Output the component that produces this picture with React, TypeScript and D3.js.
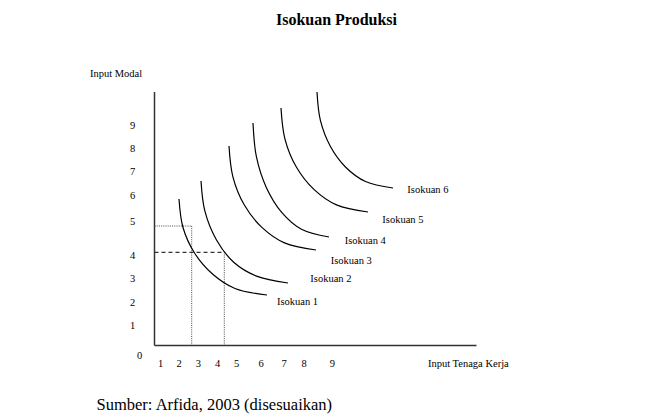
import React from "react";
import * as d3 from "d3";

// Axis / figure units (data space of the diagram)
const X_MAX = 32.2;
const Y_MAX = 25.35;

type Pt = [number, number];

const curveNames = ["Isokuan 1", "Isokuan 2", "Isokuan 3", "Isokuan 4", "Isokuan 5", "Isokuan 6"];

const isokuan1: Pt[] = [[2.45, 14.65], [2.85, 11.8], [4.0, 9.25], [5.8, 7.15], [8.05, 5.7], [11.25, 5.05]];
const isokuan2: Pt[] = [[4.65, 16.45], [5.04, 13.43], [6.2, 10.55], [7.95, 8.3], [10.2, 6.94], [13.35, 6.25]];
const isokuan3: Pt[] = [[7.45, 19.95], [7.84, 16.87], [8.97, 14.07], [10.74, 11.81], [13.0, 10.26], [16.15, 9.55]];
const isokuan4: Pt[] = [[9.85, 22.25], [10.19, 18.88], [11.18, 15.81], [12.72, 13.32], [14.7, 11.63], [17.45, 10.85]];
const isokuan5: Pt[] = [[12.65, 23.75], [13.04, 20.67], [14.17, 17.87], [15.94, 15.61], [18.2, 14.06], [21.35, 13.35]];
const isokuan6: Pt[] = [[16.25, 25.35], [16.59, 22.51], [17.58, 19.93], [19.12, 17.83], [21.1, 16.4], [23.85, 15.75]];
const curves = [isokuan1, isokuan2, isokuan3, isokuan4, isokuan5, isokuan6];

// label anchors (left, middle) in data units
const labelAnchors: Pt[] = [[12.25, 4.38], [15.58, 6.68], [17.62, 8.48], [19.02, 10.48], [22.78, 12.62], [25.28, 15.62]];

// guide points
const pointA: Pt = [3.72, 11.95];
const pointB: Pt = [6.98, 9.32];

const xTickLabels = ["1", "2", "3", "4", "5", "6", "7", "8", "9"];
const xTickPos = [0.62, 2.45, 4.38, 6.32, 8.22, 10.65, 12.95, 14.95, 17.78];
const yTickLabels = ["9", "8", "7", "6", "5", "4", "3", "2", "1"];
const yTickPos = [22.05, 19.72, 17.38, 15.05, 12.38, 9.05, 6.75, 4.28, 2.05];

const W = 659;
const H = 417;
const FONT = "'Liberation Serif', 'Times New Roman', serif";

export default function App() {
  const x = d3.scaleLinear().domain([0, X_MAX]).range([154.5, 476.5]);
  const y = d3.scaleLinear().domain([0, Y_MAX]).range([345.5, 92]);
  const line = d3
    .line<Pt>()
    .x((d) => x(d[0]))
    .y((d) => y(d[1]))
    .curve(d3.curveCatmullRom.alpha(0.5));

  return (
    <svg
      width={W}
      height={H}
      style={{ position: "absolute", left: 0, top: 0, background: "#fff" }}
      fontFamily={FONT}
    >
      <text x={336.5} y={25} textAnchor="middle" fontSize={16} fontWeight="bold" fill="#000">
        Isokuan Produksi
      </text>

      {/* guide lines */}
      <g fill="none">
        <line x1={x(0)} x2={x(pointA[0])} y1={y(pointA[1])} y2={y(pointA[1])} stroke="#333" strokeWidth={0.9} strokeDasharray="1,1.2" />
        <line x1={x(pointA[0])} x2={x(pointA[0])} y1={y(pointA[1])} y2={y(0)} stroke="#333" strokeWidth={0.9} strokeDasharray="1,1.2" />
        <line x1={x(0)} x2={x(pointB[0])} y1={y(pointB[1])} y2={y(pointB[1])} stroke="#000" strokeWidth={1} strokeDasharray="4,3" />
        <line x1={x(pointB[0])} x2={x(pointB[0])} y1={y(pointB[1])} y2={y(0)} stroke="#333" strokeWidth={0.9} strokeDasharray="1,1.2" />
      </g>

      {/* axes */}
      <line x1={x(0)} x2={x(0)} y1={y(Y_MAX)} y2={y(0)} stroke="#333" strokeWidth={1.5} />
      <line x1={x(0)} x2={x(X_MAX)} y1={y(0)} y2={y(0)} stroke="#333" strokeWidth={1.5} />

      {/* isoquants */}
      {curves.map((c, i) => (
        <path key={i} d={line(c) || ""} fill="none" stroke="#000" strokeWidth={1.2} />
      ))}
      {curveNames.map((n, i) => (
        <text key={n} x={x(labelAnchors[i][0])} y={y(labelAnchors[i][1])} dy="0.35em" fontSize={10.5} fill="#000">
          {n}
        </text>
      ))}

      {/* tick labels */}
      {yTickLabels.map((t, i) => (
        <text key={"y" + t} x={132.7} y={y(yTickPos[i])} dy="0.35em" textAnchor="middle" fontSize={10.5} fill="#000">
          {t}
        </text>
      ))}
      <text x={139.5} y={355} dy="0.35em" textAnchor="middle" fontSize={10.5} fill="#000">0</text>
      {xTickLabels.map((t, i) => (
        <text key={"x" + t} x={x(xTickPos[i])} y={363} dy="0.35em" textAnchor="middle" fontSize={10.5} fill="#000">
          {t}
        </text>
      ))}

      <text x={116} y={73} dy="0.35em" textAnchor="middle" fontSize={10.5} fill="#000">Input Modal</text>
      <text x={428} y={363} dy="0.35em" fontSize={10.5} fill="#000">Input Tenaga Kerja</text>

      <text x={96.5} y={410} fontSize={16.5} fill="#000">Sumber: Arfida, 2003 (disesuaikan)</text>
    </svg>
  );
}
